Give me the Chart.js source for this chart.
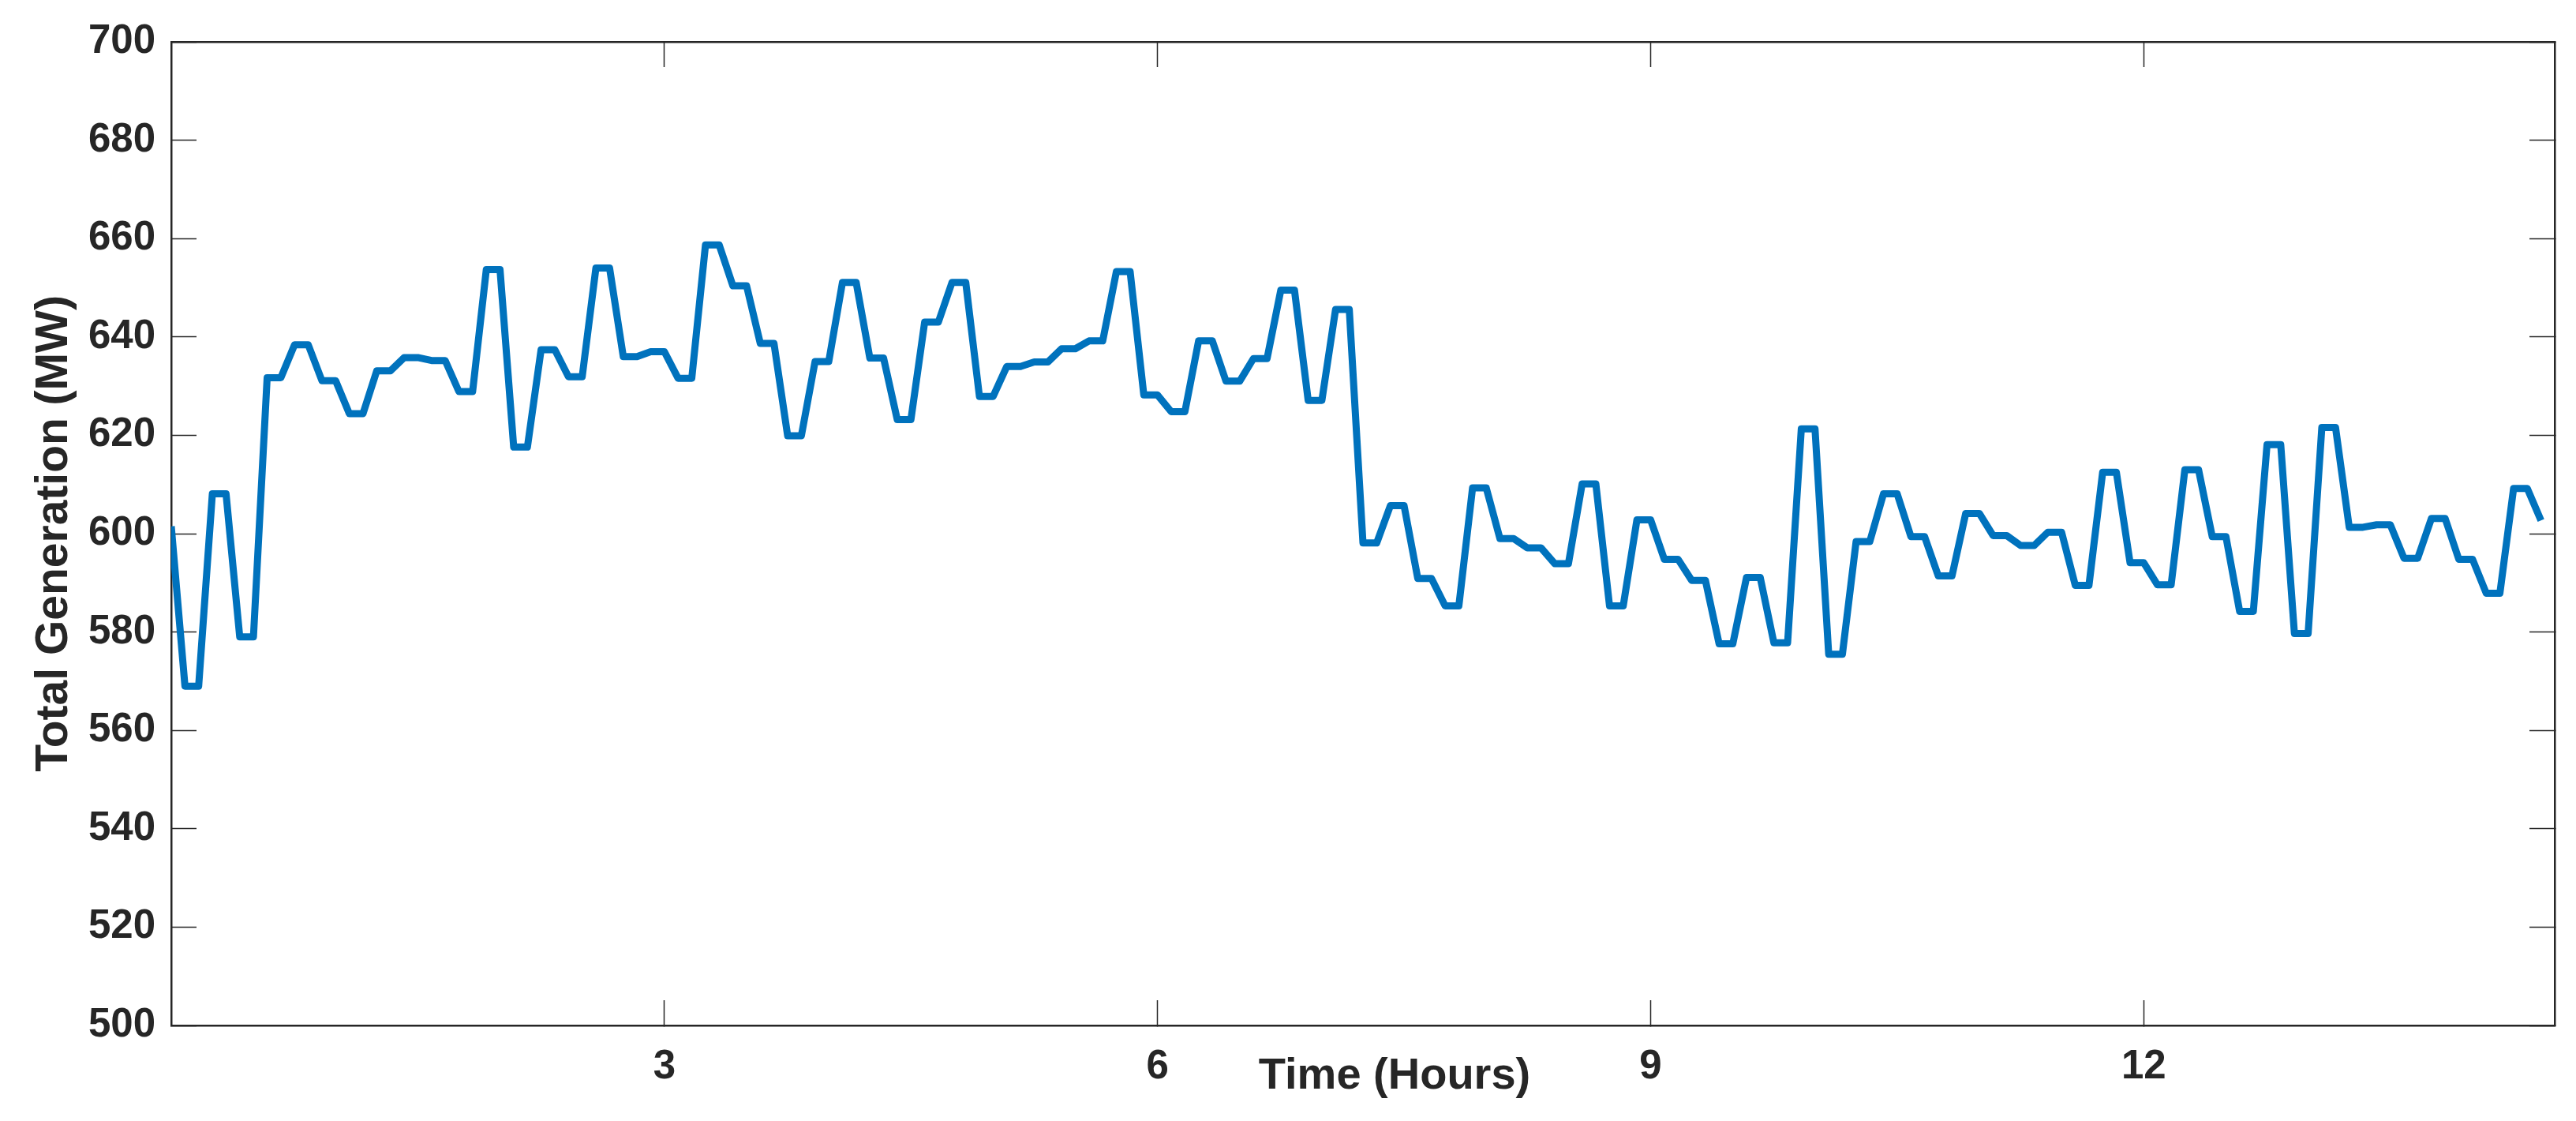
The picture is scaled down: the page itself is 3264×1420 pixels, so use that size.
<!DOCTYPE html>
<html>
<head>
<meta charset="utf-8">
<script src="https://cdn.jsdelivr.net/npm/chart.js@4"></script>
<style>
    html, body { margin: 0; padding: 0; background: #fff; }
    #wrap { width: 3264px; height: 1420px; }
</style>
</head>
<body>
<div id="wrap"><canvas id="genLine"></canvas></div>
<script>
// Total generation, sampled every 5 minutes (MW)
const generationMW = [
    601.5, 569.0, 569.0, 608.1, 608.1, 579.0, 579.0, 631.7, 631.7, 638.4,
    638.4, 631.1, 631.1, 624.4, 624.4, 633.1, 633.1, 635.8, 635.8, 635.2,
    635.2, 628.9, 628.9, 653.7, 653.7, 617.6, 617.6, 637.4, 637.4, 631.9,
    631.9, 654.0, 654.0, 636.0, 636.0, 637.0, 637.0, 631.6, 631.6, 658.7,
    658.7, 650.4, 650.4, 638.7, 638.7, 619.9, 619.9, 635.0, 635.0, 651.1,
    651.1, 635.7, 635.7, 623.2, 623.2, 643.0, 643.0, 651.1, 651.1, 627.9,
    627.9, 634.0, 634.0, 634.9, 634.9, 637.6, 637.6, 639.2, 639.2, 653.3,
    653.3, 628.2, 628.2, 624.8, 624.8, 639.2, 639.2, 631.0, 631.0, 635.6,
    635.6, 649.5, 649.5, 627.1, 627.1, 645.6, 645.6, 598.1, 598.1, 605.7,
    605.7, 590.9, 590.9, 585.3, 585.3, 609.3, 609.3, 599.0, 599.0, 597.1,
    597.1, 593.9, 593.9, 610.1, 610.1, 585.3, 585.3, 602.8, 602.8, 594.8,
    594.8, 590.5, 590.5, 577.6, 577.6, 591.1, 591.1, 577.8, 577.8, 621.3,
    621.3, 575.5, 575.5, 598.4, 598.4, 608.1, 608.1, 599.4, 599.4, 591.4,
    591.4, 604.1, 604.1, 599.6, 599.6, 597.6, 597.6, 600.3, 600.3, 589.5,
    589.5, 612.5, 612.5, 594.1, 594.1, 589.6, 589.6, 613.0, 613.0, 599.4,
    599.4, 584.2, 584.2, 618.1, 618.1, 579.7, 579.7, 621.6, 621.6, 601.3,
    601.3, 601.8, 601.8, 595.0, 595.0, 603.1, 603.1, 594.8, 594.8, 587.9,
    587.9, 609.2, 609.2, 602.7
];
const sampleMinutes = 5;
const timeHours = generationMW.map((_, i) => i * sampleMinutes / 60);

const xTickHours = [3, 6, 9, 12];
const yTickMW = [500, 520, 540, 560, 580, 600, 620, 640, 660, 680, 700];
const xRange = [0, 14.5];
const yRange = [500, 700];

const axisColor = '#262626';
const fontFamily = "'Liberation Sans', Arial, sans-serif";

Chart.defaults.font.family = fontFamily;
Chart.defaults.color = axisColor;

// shared look of the box axes (inward ticks)
function boxAxis(position, ticks, range, showLabels) {
    return {
        type: 'linear',
        position: position,
        min: range[0],
        max: range[1],
        afterBuildTicks: scale => { scale.ticks = ticks.map(v => ({ value: v })); },
        ticks: {
            display: showLabels,
            font: { size: 51, weight: 'bold' },
            color: axisColor,
            maxRotation: 0,
            autoSkip: false
        },
        grid: {
            drawOnChartArea: false,
            drawTicks: true,
            tickLength: -32,
            tickWidth: 1.5,
            tickColor: axisColor
        },
        border: { display: true, color: axisColor, width: 2.5 }
    };
}

// fixed box sizes so the plot frame lands at 217..3237 x 53..1299
function fixBox(w, h) {
    return scale => {
        if (w !== null) scale.width = w;
        if (h !== null) scale.height = h;
        scale.paddingTop = 0;
        scale.paddingBottom = 0;
        scale.paddingLeft = 0;
        scale.paddingRight = 0;
    };
}

const xBottom = boxAxis('bottom', xTickHours, xRange, true);
xBottom.ticks.padding = 54;
xBottom.afterFit = fixBox(null, 121);

const xTop = boxAxis('top', xTickHours, xRange, false);
xTop.afterFit = fixBox(null, 53);

const yLeft = boxAxis('left', yTickMW, yRange, true);
yLeft.ticks.padding = 52;
yLeft.title = {
    display: true,
    text: 'Total Generation (MW)',
    font: { size: 57, weight: 'bold' },
    color: axisColor,
    padding: { top: 35, bottom: 0 }
};
yLeft.afterFit = fixBox(217, null);

const yRight = boxAxis('right', yTickMW, yRange, false);
yRight.afterFit = fixBox(27, null);

// x title sits beside the tick labels, a bit right of centre
const xTitlePlugin = {
    id: 'xTitle',
    afterDraw(chart) {
        const ctx = chart.ctx;
        const area = chart.chartArea;
        ctx.save();
        ctx.font = 'bold 56px ' + fontFamily;
        ctx.fillStyle = axisColor;
        ctx.textAlign = 'center';
        ctx.textBaseline = 'middle';
        ctx.fillText('Time (Hours)', (area.left + area.right) / 2 + 40, area.bottom + 65);
        ctx.restore();
    }
};

const ctx = document.getElementById('genLine').getContext('2d');
new Chart(ctx, {
    type: 'line',
    data: {
        labels: timeHours,
        datasets: [{
            label: 'Total Generation',
            data: generationMW,
            borderColor: '#0072BD',
            borderWidth: 9,
            borderJoinStyle: 'round',
            pointRadius: 0,
            tension: 0,
            fill: false
        }]
    },
    options: {
        responsive: true,
        maintainAspectRatio: false,
        animation: false,
        layout: { padding: 0 },
        plugins: {
            legend: { display: false },
            tooltip: { enabled: false }
        },
        scales: {
            x: xBottom,
            xTop: xTop,
            y: yLeft,
            yRight: yRight
        }
    },
    plugins: [xTitlePlugin]
});
</script>
</body>
</html>
